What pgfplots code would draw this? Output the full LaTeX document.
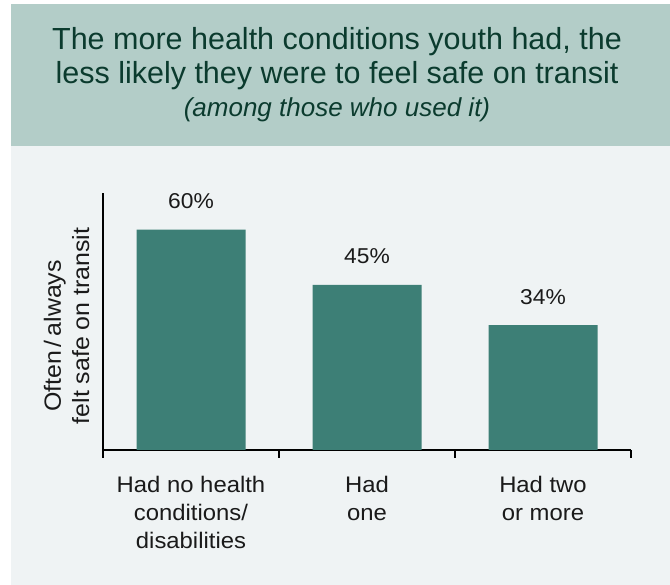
\documentclass[border=0pt]{standalone}
\usepackage{fontspec}
\usepackage{pgfplots}
\pgfplotsset{compat=1.18}
\setmainfont{Liberation Sans}
\newfontfamily\bodyfont[FakeStretch=1.06]{Liberation Sans}
\newfontfamily\titlefont{Liberation Sans}
\definecolor{bandc}{HTML}{B3CDC8}
\definecolor{bodybg}{HTML}{EFF3F4}
\definecolor{barc}{HTML}{3D7F76}
\definecolor{titlec}{HTML}{0B3B2E}
\definecolor{labc}{HTML}{1A1A1A}
\begin{document}
\begin{tikzpicture}
\fill[white] (0,0) rectangle (670pt,585pt);
\fill[bodybg] (11pt,0) rectangle (670pt,439pt);
\fill[bandc] (11pt,439pt) rectangle (670pt,581pt);
\node[font=\titlefont\fontsize{30.5}{33}\selectfont, text=titlec, anchor=base, inner sep=0] at (337pt,535pt) {The more health conditions youth had, the};
\node[font=\titlefont\fontsize{30.5}{33}\selectfont, text=titlec, anchor=base, inner sep=0] at (337pt,501pt) {less likely they were to feel safe on transit};
\node[font=\titlefont\fontsize{26}{30}\selectfont\itshape, text=titlec, anchor=base, inner sep=0] at (337pt,468pt) {(among those who used it)};
\node[font=\bodyfont\fontsize{23.5}{27}\selectfont, text=labc, rotate=90, anchor=base, inner sep=0] at (61pt,249pt) {Often\,/\,always};
\node[font=\bodyfont\fontsize{23.5}{27}\selectfont, text=labc, rotate=90, anchor=base, inner sep=0] at (89pt,259pt) {felt safe on transit};
\begin{axis}[
  at={(103pt,135pt)}, anchor=south west,
  scale only axis, width=528pt, height=257pt,
  xmin=-0.5, xmax=2.5, ymin=0, ymax=70,
  axis x line=bottom, axis y line=left,
  axis line style={-, line width=2pt, black},
  ytick=\empty,
  xtick={0,1,2},
  xticklabels={{Had no health\\conditions/\\disabilities},{Had\\one},{Had two\\or more}},
  major tick length=0pt,
  extra x ticks={-0.5,0.5,1.5,2.5},
  extra x tick labels={},
  extra x tick style={major tick length=8pt, xtick align=outside, tick style={line width=2pt, black}},
  xticklabel style={font=\bodyfont\fontsize{22.5}{28}\selectfont, align=center, text=labc, yshift=-23pt},
  /pgf/number format/assume math mode=true,
  ybar, bar width=109pt,
  nodes near coords={\pgfmathprintnumber{\pgfplotspointmeta}\%},
  every node near coord/.append style={font=\bodyfont\fontsize{21.5}{24}\selectfont, text=labc, anchor=base, inner sep=0pt, yshift=21pt},
  clip=false,
]
\addplot[fill=barc, draw=none] coordinates {(0,60) (1,45) (2,34)};
\end{axis}
\end{tikzpicture}
\end{document}
